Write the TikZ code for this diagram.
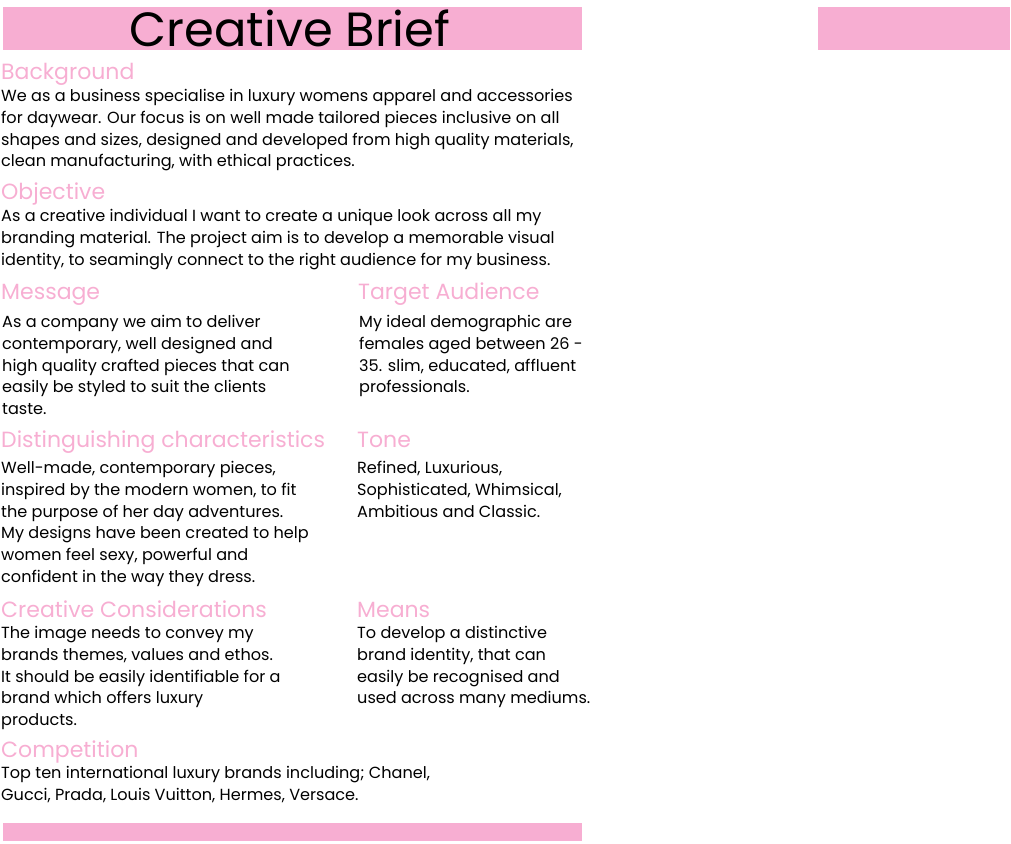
\documentclass[tikz,border=0pt]{standalone}
\usepackage{fontspec}
\setmainfont{Poppins}
\definecolor{pk}{HTML}{F7AED2}
\begin{document}
\begin{tikzpicture}[x=1pt,y=-1pt,
  hd/.style={anchor=base west,inner sep=0pt,text=pk,font=\fontsize{22}{24}\selectfont},
  bd/.style={anchor=north west,inner sep=0pt,align=left,font=\fontsize{16.1}{21.8}\selectfont}]
\useasboundingbox (0,0) rectangle (1011,843);
\fill[pk] (3,7) rectangle (582,50);
\fill[pk] (818,7) rectangle (1010,50);
\fill[pk] (3,823) rectangle (582,841);
\node[inner sep=0pt,font=\fontsize{48}{50}\selectfont] (title) at (290,28) {Creative Brief};

\node[hd] (h1) at (1,79) {Background};
\node[bd] (b1) at (1,89) {We as a business specialise in luxury womens apparel and accessories\\for daywear. Our focus is on well made tailored pieces inclusive on all\\shapes and sizes, designed and developed from high quality materials,\\clean manufacturing, with ethical practices.};
\node[hd] (h2) at (1,199) {Objective};
\node[bd] (b2) at (1,209) {As a creative individual I want to create a unique look across all my\\branding material. The project aim is to develop a memorable visual\\identity, to seamingly connect to the right audience for my business.};
\node[hd] (h3) at (1,299) {Message};
\node[bd] (b3) at (2,315) {As a company we aim to deliver\\contemporary, well designed and\\high quality crafted pieces that can\\easily be styled to suit the clients\\taste.};
\node[hd] (h4) at (358,299) {Target Audience};
\node[bd] (b4) at (359,315) {My ideal demographic are\\females aged between 26 -\\35. slim, educated, affluent\\professionals.};
\node[hd] (h5) at (1,447) {Distinguishing characteristics};
\node[bd] (b5) at (1,461) {Well-made, contemporary pieces,\\inspired by the modern women, to fit\\the purpose of her day adventures.\\My designs have been created to help\\women feel sexy, powerful and\\confident in the way they dress.};
\node[hd] (h6) at (357,447) {Tone};
\node[bd] (b6) at (357,461) {Refined, Luxurious,\\Sophisticated, Whimsical,\\Ambitious and Classic.};
\node[hd] (h7) at (1,617) {Creative Considerations};
\node[bd] (b7) at (1,626) {The image needs to convey my\\brands themes, values and ethos.\\It should be easily identifiable for a\\brand which offers luxury\\products.};
\node[hd] (h8) at (357,617) {Means};
\node[bd] (b8) at (357,626) {To develop a distinctive\\brand identity, that can\\easily be recognised and\\used across many mediums.};
\node[hd] (h9) at (1,757) {Competition};
\node[bd] (b9) at (1,766) {Top ten international luxury brands including; Chanel,\\Gucci, Prada, Louis Vuitton, Hermes, Versace.};
\end{tikzpicture}
\end{document}
